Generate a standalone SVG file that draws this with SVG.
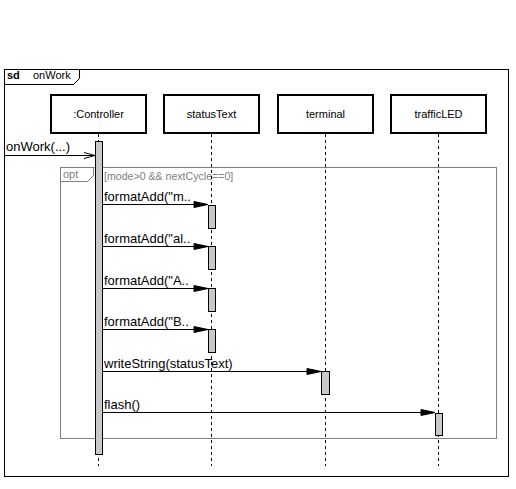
<svg xmlns="http://www.w3.org/2000/svg" width="516" height="489" viewBox="0 0 516 489">
<style>
text{font-family:"Liberation Sans",Arial,sans-serif;fill:#000}
.box{fill:#fff;stroke:#000;stroke-width:2}
.life{stroke:#000;stroke-width:1;stroke-dasharray:3,3;fill:none}
.act{fill:#c8c8c8;stroke:#000;stroke-width:1}
.msg{stroke:#000;stroke-width:1;fill:none}
.head{fill:#000;stroke:#000;stroke-width:1}
.lbl{font-size:11px;text-anchor:middle}
.mt{font-size:13px}
</style>
<rect x="0" y="0" width="516" height="489" fill="#fff"/>
<g id="frame">
<rect x="4.5" y="69.5" width="504" height="407" fill="none" stroke="#000"/>
<path d="M4.5 84.5 H73.5 L79.5 78.5 V69.5" fill="none" stroke="#000"/>
<text x="7" y="79" font-size="11px" font-weight="bold">sd</text>
<text x="33" y="79" font-size="11px">onWork</text>
</g>
<g id="opt">
<rect x="60.5" y="167.5" width="436" height="271" fill="none" stroke="#808080"/>
<path d="M60.5 181.5 H87.5 L93.5 175.5 V167.5" fill="none" stroke="#808080"/>
<text x="63" y="178" font-size="11px" style="fill:#808080">opt</text>
<text x="104" y="180" font-size="10.6px" style="fill:#808080">[mode&gt;0 &amp;&amp; nextCycle==0]</text>
</g>
<g id="controller">
<line class="life" x1="98.5" y1="134" x2="98.5" y2="466"/>
<rect class="box" x="51" y="95" width="95" height="38"/>
<text class="lbl" x="98.5" y="118">:Controller</text>
<rect class="act" x="95.5" y="141.5" width="7" height="313"/>
</g>
<g id="statusText">
<line class="life" x1="211.5" y1="134" x2="211.5" y2="466"/>
<rect class="box" x="164" y="95" width="95" height="38"/>
<text class="lbl" x="211.5" y="118">statusText</text>
<rect class="act" x="208.5" y="205.5" width="7" height="23"/>
<rect class="act" x="208.5" y="246.5" width="7" height="23"/>
<rect class="act" x="208.5" y="288.5" width="7" height="23"/>
<rect class="act" x="208.5" y="329.5" width="7" height="23"/>
</g>
<g id="terminal">
<line class="life" x1="325.5" y1="134" x2="325.5" y2="466"/>
<rect class="box" x="278" y="95" width="95" height="38"/>
<text class="lbl" x="325.5" y="118">terminal</text>
<rect class="act" x="321.5" y="371.5" width="8" height="23"/>
</g>
<g id="trafficLED">
<line class="life" x1="438.5" y1="134" x2="438.5" y2="466"/>
<rect class="box" x="391" y="95" width="95" height="38"/>
<text class="lbl" x="438.5" y="118">trafficLED</text>
<rect class="act" x="435.5" y="413.5" width="7" height="22"/>
</g>
<g id="connectors">
<line class="msg" x1="4" y1="155.5" x2="95" y2="155.5"/>
<path class="msg" d="M84 152.5 L95 155.5 L84 158.5"/>
<text class="mt" x="6" y="151">onWork(...)</text>

<line class="msg" x1="102" y1="204.5" x2="208" y2="204.5"/>
<polygon class="head" points="208,204.5 194,201.5 194,207.5"/>
<text class="mt" x="104" y="201">formatAdd("m..</text>

<line class="msg" x1="102" y1="246.5" x2="208" y2="246.5"/>
<polygon class="head" points="208,246.5 194,243.5 194,249.5"/>
<text class="mt" x="104" y="243">formatAdd("al..</text>

<line class="msg" x1="102" y1="288.5" x2="208" y2="288.5"/>
<polygon class="head" points="208,288.5 194,285.5 194,291.5"/>
<text class="mt" x="104" y="285">formatAdd("A..</text>

<line class="msg" x1="102" y1="329.5" x2="208" y2="329.5"/>
<polygon class="head" points="208,329.5 194,326.5 194,332.5"/>
<text class="mt" x="104" y="326">formatAdd("B..</text>

<line class="msg" x1="102" y1="371.5" x2="321" y2="371.5"/>
<polygon class="head" points="321,371.5 307,368.5 307,374.5"/>
<text class="mt" x="104" y="368">writeString(statusText)</text>

<line class="msg" x1="102" y1="412.5" x2="435" y2="412.5"/>
<polygon class="head" points="435,412.5 421,409.5 421,415.5"/>
<text class="mt" x="104" y="409">flash()</text>
</g>
</svg>
